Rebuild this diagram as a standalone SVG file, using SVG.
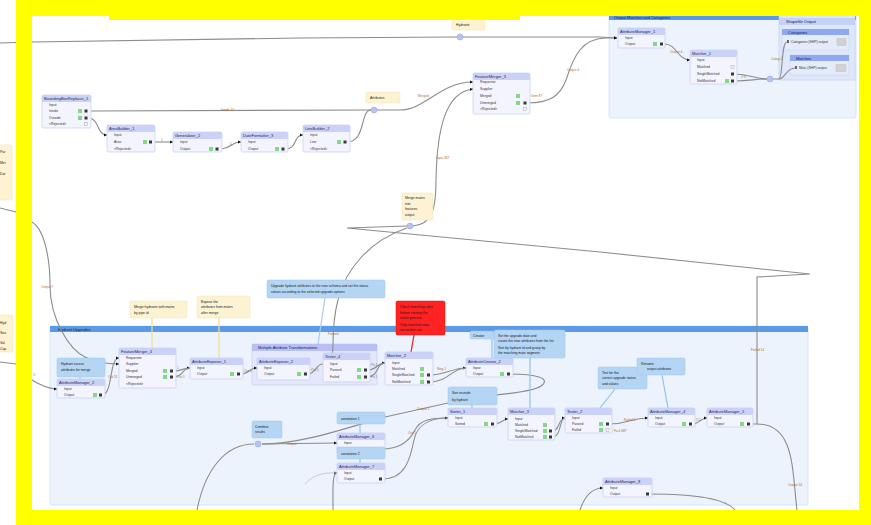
<svg xmlns="http://www.w3.org/2000/svg" width="871" height="525" viewBox="0 0 871 525">
<defs>
<style>
.nb{fill:#f3f4fe;stroke:#c3cbf2;stroke-width:.7}
.nh{fill:#cad2f8}
.nt{font-family:'Liberation Sans',Arial,sans-serif;font-size:4px;fill:#1d2550}
.pt{font-family:'Liberation Sans',Arial,sans-serif;font-size:3.4px;fill:#333}
.ok{fill:#86d886}
.op{fill:#3a3a3a}
.oi{fill:#e5a04e}
.ya{fill:#fdf2d2;stroke:#f3e3b6;stroke-width:.5}
.ba{fill:#b5d5f4;stroke:#a3c6ee;stroke-width:.5}
.ra{fill:#ff2222;stroke:#e01010;stroke-width:.5}
.at{font-family:'Liberation Sans',Arial,sans-serif;font-size:3.4px;fill:#1a1a1a}
.cl{fill:none;stroke:#8c8c8c;stroke-width:1.1}
.cf{fill:none;stroke:#c8c8c8;stroke-width:.9}
.ac{fill:none;stroke-width:1.2}
.lb{font-family:'Liberation Sans',Arial,sans-serif;font-size:3.2px;fill:#b0692c}
.jn{fill:#b7c3f4;stroke:#8f9ee6;stroke-width:.5}
.bm{fill:#ecf3fc;stroke:#cfe0f6;stroke-width:.8}
.bh{fill:#5a9ae6}
.bt{font-family:'Liberation Sans',Arial,sans-serif;font-size:4px;fill:#0d2050}
</style>
<marker id="ar" viewBox="0 0 4 4" refX="4" refY="2" markerWidth="3" markerHeight="3" orient="auto"><path d="M0,0L4,2L0,4z" fill="#111"/></marker>
</defs>
<rect width="871" height="525" fill="#fff"/>

<!-- bookmarks -->
<g id="bm-top">
<rect class="bm" x="609" y="13" width="247" height="105" rx="2"/>
<rect class="bh" x="609" y="13" width="247" height="7"/>
<text class="bt" x="614" y="18.5">Output Matches and Categories</text>
<rect x="779" y="13" width="76" height="67" fill="#dfe8fb" stroke="#b9cbf2" stroke-width=".6"/>
<rect x="779" y="18" width="76" height="7" fill="#c4d2f6"/>
<text class="bt" x="786" y="23">Shapefile Output</text>
<rect x="782" y="29" width="67" height="21" fill="#e4ebf9" stroke="#c2d0f0" stroke-width=".5"/>
<rect x="782" y="29" width="67" height="6" fill="#8fa8ee"/>
<text class="bt" x="788" y="33.5">Categories</text>
<rect x="787" y="40" width="2" height="3" fill="#666"/>
<text class="pt" x="791" y="43.2">Categories (SHP) output</text>
<rect x="837" y="38.5" width="9" height="7" fill="#d2d2d2" stroke="#b8b8b8" stroke-width=".4"/>
<rect x="790" y="55" width="59" height="20" fill="#e4ebf9" stroke="#c2d0f0" stroke-width=".5"/>
<rect x="790" y="55" width="59" height="6" fill="#8fa8ee"/>
<text class="bt" x="796" y="59.5">Matches</text>
<rect x="795" y="66" width="2" height="3" fill="#666"/>
<text class="pt" x="799" y="69.2">Matc (SHP) output</text>
<rect x="836" y="64.5" width="10" height="7" fill="#d2d2d2" stroke="#b8b8b8" stroke-width=".4"/>
</g>
<g id="bm-bottom">
<rect class="bm" x="50" y="326" width="758" height="179" rx="2"/>
<rect class="bh" x="50" y="326" width="758" height="6"/>
<text class="bt" x="58" y="330.5">Hydrant Upgrades</text>
</g>
<g id="bm-nested">
<rect x="252" y="344" width="125" height="41" rx="1.5" fill="#e3e8fb" stroke="#c3cbf2" stroke-width=".6"/>
<rect x="252" y="344" width="125" height="7" fill="#b7bff6"/>
<text class="bt" x="258" y="349">Multiple Attribute Transformations</text>
</g>

<!-- connectors -->
<g id="connectors">
<path class="cl" d="M0,43 L32,42 L300,38 L457,37"/>
<path class="cl" d="M463,37 L600,37 L617,38" marker-end="url(#ar)"/>
<path class="cl" d="M527,103 C550,103 560,96 566,80 C574,55 582,39 605,38 L617,38" marker-end="url(#ar)"/>
<path class="cl" d="M88,111 L371,110"/>
<path class="cl" d="M88,118 C100,118 96,135 107,135" marker-end="url(#ar)"/>
<path class="cl" d="M152,142 L173,142" marker-end="url(#ar)"/>
<path class="cl" d="M219,149 C232,149 230,142 241,142" marker-end="url(#ar)"/>
<path class="cl" d="M285,149 C298,149 293,135 303,135" marker-end="url(#ar)"/>
<path class="cl" d="M347,142 C366,142 360,110 371,110"/>
<path class="cl" d="M377,110 L400,110 C425,110 440,82 473,82" marker-end="url(#ar)"/>
<path class="cl" d="M413,226 C432,224 436,210 436,180 C437,130 445,92 473,89" marker-end="url(#ar)"/>
<path class="cl" d="M750,424 L757,424 L757,277 L810,274 L600,252 L347,228 L407,226"/>
<path class="cl" d="M757,424 C795,424 792,470 797,510"/>
<path class="cl" d="M407,228 C370,240 345,270 338,300 C334,315 333,330 333,345 C333,356 330,364 323,364" marker-end="url(#ar)"/>
<path class="cl" d="M665,44 C676,44 678,60 690,60" marker-end="url(#ar)"/>
<path class="cl" d="M734,74 C750,74 755,79 767,79"/>
<path class="cl" d="M734,81 C750,81 755,79 767,79"/>
<path class="cl" d="M773,79 L779,79 C783,79 781,42 787,42"/>
<path class="cl" d="M779,79 C785,79 786,68 795,68"/>
<path class="cl" d="M0,208 L16,212"/>
<path class="cl" d="M32,222 C45,230 50,260 50,285 C50,320 70,350 85,357 C95,362 105,364 119,364" marker-end="url(#ar)"/>
<path class="cl" d="M0,362 L16,364"/>
<path class="cl" d="M32,380 C40,385 48,389 57,389" marker-end="url(#ar)"/>
<path class="cl" d="M102,395 C113,395 109,358 119,358" marker-end="url(#ar)"/>
<path class="cl" d="M173,371 C183,371 182,368 190,368" marker-end="url(#ar)"/>
<path class="cl" d="M173,377 C184,377 182,368 190,368"/>
<path class="cl" d="M240,374 C250,374 249,368 257,368" marker-end="url(#ar)"/>
<path class="cl" d="M307,374 C317,374 315,364 323,364"/>
<path class="cl" d="M367,370 C378,370 376,363 385,363" marker-end="url(#ar)"/>
<path class="cl" d="M367,377 C379,377 376,363 385,363"/>
<path class="cl" d="M430,375 C446,375 452,368 466,368" marker-end="url(#ar)"/>
<path class="cl" d="M430,382 C448,382 452,368 466,368"/>
<path class="cl" d="M510,374 C535,374 552,378 541,386 C532,392 510,393 497,395 L448,403 L385,417 C340,430 300,444 262,444"/>
<path class="cl" d="M262,444 L337,443" marker-end="url(#ar)"/>
<path class="cl" d="M254,444 C225,444 205,470 197,510"/>
<path class="cl" d="M382,449 C400,449 410,440 415,430 C420,420 430,418 448,418" marker-end="url(#ar)"/>
<path class="cl" d="M382,479 C405,479 410,460 414,440 C417,425 430,418 448,418"/>
<path class="cl" d="M333,510 C333,490 332,473 337,473" marker-end="url(#ar)"/>
<path class="cf" d="M305,484 C312,476 322,472 337,473"/>
<path class="cl" d="M494,424 C502,424 502,419 508,419" marker-end="url(#ar)"/>
<path class="cl" d="M552,431 C560,431 558,418 565,418" marker-end="url(#ar)"/>
<path class="cl" d="M552,437 C562,437 559,418 565,418"/>
<path class="cl" d="M609,424 C630,424 630,418 648,418" marker-end="url(#ar)"/>
<path class="cl" d="M692,424 C700,424 700,418 707,418" marker-end="url(#ar)"/>
<path class="cl" d="M580,510 C585,495 592,488 603,488" marker-end="url(#ar)"/>
<path class="cl" d="M649,494 C690,494 725,498 735,510"/>
<!-- annotation connectors -->
<path class="ac" stroke="#f3dc8a" d="M152,318 L152,348"/>
<path class="ac" stroke="#f3dc8a" d="M219,318 L219,358"/>
<path class="ac" stroke="#a9c9f3" d="M325,298 L318,344"/>
<path class="ac" stroke="#e81818" d="M414,335 L411,352"/>
<path class="ac" stroke="#8fc1ef" d="M530,357 L530,408"/>
<path class="ac" stroke="#8fc1ef" d="M492,339 L492,358"/>
<path class="ac" stroke="#8fc1ef" d="M472,405 L472,408"/>
<path class="ac" stroke="#8fc1ef" d="M615,389 L600,408"/>
<path class="ac" stroke="#8fc1ef" d="M662,375 L668,408"/>
<path class="ac" stroke="#8fc1ef" d="M360,424 L360,433"/>
<path class="ac" stroke="#8fc1ef" d="M360,459 L360,463"/>
<path class="ac" stroke="#8fc1ef" d="M80,377 L80,379"/>
<!-- connector labels -->
<text class="lb" x="221" y="111.2">Inside 12</text>
<text class="lb" x="161" y="141">1</text>
<text class="lb" x="230" y="145">1</text>
<text class="lb" x="418" y="97">Merged</text>
<text class="lb" x="531" y="97">Unm 87</text>
<text class="lb" x="567" y="71">Output 4</text>
<text class="lb" x="436" y="159">Input 307</text>
<text class="lb" x="670" y="53">Output 4</text>
<text class="lb" x="741" y="78">O 6</text>
<text class="lb" x="771" y="60">Categ 2</text>
<text class="lb" x="751" y="351">Failed 14</text>
<text class="lb" x="788" y="486">Output 14</text>
<text class="lb" x="41" y="288">Output 7</text>
<text class="lb" x="33" y="376">O</text>
<text class="lb" x="108" y="378">Out 51</text>
<text class="lb" x="177" y="369">1</text>
<text class="lb" x="177" y="378">Out 1</text>
<text class="lb" x="244" y="372">Out 1</text>
<text class="lb" x="311" y="371">Out 1</text>
<text class="lb" x="328" y="335">Passed</text>
<text class="lb" x="371" y="366">Pa 1</text>
<text class="lb" x="371" y="378">Fa 1</text>
<text class="lb" x="437" y="370">Sing 1</text>
<text class="lb" x="417" y="410">Output 1</text>
<text class="lb" x="287" y="445">Output</text>
<text class="lb" x="408" y="434">Out 1</text>
<text class="lb" x="624" y="421">Failed 1</text>
<text class="lb" x="614" y="431.5">Fa 4 687</text>
<text class="lb" x="696" y="421">O 1</text>
</g>

<!-- nodes -->
<g id="n-bbox">
<rect class="nb" x="42" y="95" width="49" height="33" rx="1.5"/><rect class="nh" x="42" y="95" width="49" height="7" rx="1.5"/>
<text class="nt" x="44" y="100">BoundingBoxReplacer_1</text>
<text class="pt" x="49" y="106.2">Input</text><text class="pt" x="49" y="112.2">Inside</text><text class="pt" x="49" y="119.2">Outside</text><text class="pt" x="49" y="125.2">&lt;Rejected&gt;</text>
<rect class="ok" x="78" y="109" width="4" height="4"/><rect class="ok" x="78" y="116" width="4" height="4"/>
<rect class="op" x="84.5" y="109.5" width="3" height="3"/><rect class="op" x="84.5" y="116.5" width="3" height="3"/>
<rect x="84.5" y="122.5" width="3" height="3" fill="none" stroke="#999" stroke-width=".4"/>
</g>
<g id="n-area">
<rect class="nb" x="107" y="125" width="48" height="27" rx="1.5"/><rect class="nh" x="107" y="125" width="48" height="7" rx="1.5"/>
<text class="nt" x="109" y="130">AreaBuilder_1</text>
<text class="pt" x="114" y="136.2">Input</text><text class="pt" x="114" y="143.2">Area</text><text class="pt" x="114" y="150.2">&lt;Rejected&gt;</text>
<rect class="ok" x="143" y="140" width="4" height="4"/><rect class="op" x="149" y="140.5" width="3" height="3"/>
</g>
<g id="n-gen">
<rect class="nb" x="173" y="132" width="49" height="20" rx="1.5"/><rect class="nh" x="173" y="132" width="49" height="7" rx="1.5"/>
<text class="nt" x="175" y="137">Generalizer_2</text>
<text class="pt" x="180" y="143.2">Input</text><text class="pt" x="180" y="150.2">Output</text>
<rect class="ok" x="209" y="147" width="4" height="4"/><rect class="op" x="215.5" y="147.5" width="3" height="3"/>
</g>
<g id="n-snap">
<rect class="nb" x="241" y="132" width="47" height="20" rx="1.5"/><rect class="nh" x="241" y="132" width="47" height="7" rx="1.5"/>
<text class="nt" x="243" y="137">DateFormatter_3</text>
<text class="pt" x="248" y="143.2">Input</text><text class="pt" x="248" y="150.2">Output</text>
<rect class="ok" x="275" y="147" width="4" height="4"/><rect class="op" x="281.5" y="147.5" width="3" height="3"/>
</g>
<g id="n-line">
<rect class="nb" x="303" y="125" width="47" height="27" rx="1.5"/><rect class="nh" x="303" y="125" width="47" height="7" rx="1.5"/>
<text class="nt" x="305" y="130">LineBuilder_2</text>
<text class="pt" x="310" y="136.2">Input</text><text class="pt" x="310" y="143.2">Line</text><text class="pt" x="310" y="150.2">&lt;Rejected&gt;</text>
<rect class="ok" x="337" y="140" width="4" height="4"/><rect class="op" x="343.5" y="140.5" width="3" height="3"/>
</g>
<g id="n-fm3">
<rect class="nb" x="473" y="73" width="57" height="41" rx="1.5"/><rect class="nh" x="473" y="73" width="57" height="7" rx="1.5"/>
<text class="nt" x="475" y="78">FeatureMerger_3</text>
<text class="pt" x="480" y="83.2">Requestor</text><text class="pt" x="480" y="90.2">Supplier</text><text class="pt" x="480" y="97.2">Merged</text><text class="pt" x="480" y="104.2">Unmerged</text><text class="pt" x="480" y="110.2">&lt;Rejected&gt;</text>
<rect class="ok" x="516" y="94" width="4" height="4"/><rect class="ok" x="516" y="101" width="4" height="4"/>
<rect class="op" x="523.5" y="101.5" width="3" height="3"/>
<rect x="523.5" y="107.5" width="3" height="3" fill="none" stroke="#999" stroke-width=".4"/>
</g>
<g id="n-am1">
<rect class="nb" x="618" y="28" width="47" height="20" rx="1.5"/><rect class="nh" x="618" y="28" width="47" height="7" rx="1.5"/>
<text class="nt" x="620" y="33">AttributeManager_1</text>
<text class="pt" x="625" y="39.2">Input</text><text class="pt" x="625" y="45.2">Output</text>
<rect class="ok" x="653" y="42" width="4" height="4"/><rect class="op" x="660" y="42.5" width="3" height="3"/>
</g>
<g id="n-m1">
<rect class="nb" x="690" y="50" width="47" height="34" rx="1.5"/><rect class="nh" x="690" y="50" width="47" height="7" rx="1.5"/>
<text class="nt" x="692" y="55">Matcher_1</text>
<text class="pt" x="697" y="61.2">Input</text><text class="pt" x="697" y="68.2">Matched</text><text class="pt" x="697" y="75.2">SingleMatched</text><text class="pt" x="697" y="82.2">NotMatched</text>
<rect class="ok" x="725" y="79" width="4" height="4"/>
<rect class="op" x="731" y="72.5" width="3" height="3"/><rect class="op" x="731" y="79.5" width="3" height="3"/>
<rect x="731" y="65.5" width="3" height="3" fill="none" stroke="#999" stroke-width=".4"/>
</g>
<g id="n-am2">
<rect class="nb" x="57" y="379" width="48" height="19" rx="1.5"/><rect class="nh" x="57" y="379" width="48" height="7" rx="1.5"/>
<text class="nt" x="59" y="384">AttributeManager_2</text>
<text class="pt" x="64" y="390.2">Input</text><text class="pt" x="64" y="396.2">Output</text>
<rect class="ok" x="93" y="393" width="4" height="4"/><rect class="op" x="99" y="393.5" width="3" height="3"/>
</g>
<g id="n-fm4">
<rect class="nb" x="119" y="348" width="57" height="40" rx="1.5"/><rect class="nh" x="119" y="348" width="57" height="7" rx="1.5"/>
<text class="nt" x="121" y="353">FeatureMerger_4</text>
<text class="pt" x="126" y="359.2">Requestor</text><text class="pt" x="126" y="365.2">Supplier</text><text class="pt" x="126" y="372.2">Merged</text><text class="pt" x="126" y="378.2">Unmerged</text><text class="pt" x="126" y="385.2">&lt;Rejected&gt;</text>
<rect class="ok" x="163" y="369" width="4" height="4"/><rect class="ok" x="163" y="375" width="4" height="4"/>
<rect class="op" x="170" y="369.5" width="3" height="3"/><rect class="op" x="170" y="375.5" width="3" height="3"/>
</g>
<g id="n-ae1">
<rect class="nb" x="190" y="358" width="53" height="21" rx="1.5"/><rect class="nh" x="190" y="358" width="53" height="7" rx="1.5"/>
<text class="nt" x="192" y="363">AttributeExposer_1</text>
<text class="pt" x="197" y="369.2">Input</text><text class="pt" x="197" y="375.2">Output</text>
<rect class="ok" x="230" y="372" width="4" height="4"/><rect class="op" x="237" y="372.5" width="3" height="3"/>
</g>
<g id="n-ae2">
<rect class="nb" x="257" y="358" width="53" height="22" rx="1.5"/><rect class="nh" x="257" y="358" width="53" height="7" rx="1.5"/>
<text class="nt" x="259" y="363">AttributeExposer_2</text>
<text class="pt" x="264" y="369.2">Input</text><text class="pt" x="264" y="375.2">Output</text>
<rect class="ok" x="297" y="372" width="4" height="4"/><rect class="op" x="304" y="372.5" width="3" height="3"/>
</g>
<g id="n-t4">
<rect class="nb" x="323" y="353" width="47" height="29" rx="1.5"/><rect class="nh" x="323" y="353" width="47" height="7" rx="1.5"/>
<text class="nt" x="325" y="358">Tester_4</text>
<text class="pt" x="330" y="365.2">Input</text><text class="pt" x="330" y="371.2">Passed</text><text class="pt" x="330" y="378.2">Failed</text>
<rect class="ok" x="357" y="368" width="4" height="4"/><rect class="ok" x="357" y="375" width="4" height="4"/>
<rect class="op" x="364" y="368.5" width="3" height="3"/><rect class="op" x="364" y="375.5" width="3" height="3"/>
</g>
<g id="n-m2">
<rect class="nb" x="385" y="352" width="48" height="33" rx="1.5"/><rect class="nh" x="385" y="352" width="48" height="7" rx="1.5"/>
<text class="nt" x="387" y="357">Matcher_2</text>
<text class="pt" x="392" y="364.2">Input</text><text class="pt" x="392" y="370.2">Matched</text><text class="pt" x="392" y="376.2">SingleMatched</text><text class="pt" x="392" y="383.2">NotMatched</text>
<rect class="ok" x="420" y="367" width="4" height="4"/><rect class="ok" x="420" y="373" width="4" height="4"/><rect class="ok" x="420" y="380" width="4" height="4"/>
<rect class="op" x="427" y="373.5" width="3" height="3"/><rect class="op" x="427" y="380.5" width="3" height="3"/>
</g>
<g id="n-ac2">
<rect class="nb" x="466" y="358" width="47" height="19" rx="1.5"/><rect class="nh" x="466" y="358" width="47" height="7" rx="1.5"/>
<text class="nt" x="468" y="363">AttributeCreator_2</text>
<text class="pt" x="473" y="369.2">Input</text><text class="pt" x="473" y="375.2">Output</text>
<rect class="ok" x="500" y="372" width="4" height="4"/><rect class="op" x="507" y="372.5" width="3" height="3"/>
</g>
<g id="n-sort">
<rect class="nb" x="448" y="408" width="49" height="19" rx="1.5"/><rect class="nh" x="448" y="408" width="49" height="7" rx="1.5"/>
<text class="nt" x="450" y="413">Sorter_1</text>
<text class="pt" x="455" y="419.2">Input</text><text class="pt" x="455" y="425.2">Sorted</text>
<rect class="ok" x="484" y="422" width="4" height="4"/><rect class="op" x="491" y="422.5" width="3" height="3"/>
</g>
<g id="n-m3">
<rect class="nb" x="508" y="408" width="47" height="32" rx="1.5"/><rect class="nh" x="508" y="408" width="47" height="7" rx="1.5"/>
<text class="nt" x="510" y="413">Matcher_3</text>
<text class="pt" x="515" y="420.2">Input</text><text class="pt" x="515" y="426.2">Matched</text><text class="pt" x="515" y="432.2">SingleMatched</text><text class="pt" x="515" y="438.2">NotMatched</text>
<rect class="ok" x="543" y="423" width="4" height="4"/><rect class="ok" x="543" y="429" width="4" height="4"/><rect class="ok" x="543" y="435" width="4" height="4"/>
<rect class="op" x="549" y="429.5" width="3" height="3"/><rect class="op" x="549" y="435.5" width="3" height="3"/>
</g>
<g id="n-t2">
<rect class="nb" x="565" y="408" width="47" height="25" rx="1.5"/><rect class="nh" x="565" y="408" width="47" height="7" rx="1.5"/>
<text class="nt" x="567" y="413">Tester_2</text>
<text class="pt" x="572" y="419.2">Input</text><text class="pt" x="572" y="425.2">Passed</text><text class="pt" x="572" y="431.2">Failed</text>
<rect class="ok" x="599" y="422" width="4" height="4"/><rect class="ok" x="599" y="428" width="4" height="4"/>
<rect class="op" x="606" y="422.5" width="3" height="3"/>
<rect x="606" y="428.5" width="3" height="3" fill="none" stroke="#999" stroke-width=".4"/>
</g>
<g id="n-am4">
<rect class="nb" x="648" y="408" width="47" height="19" rx="1.5"/><rect class="nh" x="648" y="408" width="47" height="7" rx="1.5"/>
<text class="nt" x="650" y="413">AttributeManager_4</text>
<text class="pt" x="655" y="419.2">Input</text><text class="pt" x="655" y="425.2">Output</text>
<rect class="ok" x="682" y="422" width="4" height="4"/><rect class="op" x="689" y="422.5" width="3" height="3"/>
</g>
<g id="n-am5">
<rect class="nb" x="707" y="408" width="46" height="19" rx="1.5"/><rect class="nh" x="707" y="408" width="46" height="7" rx="1.5"/>
<text class="nt" x="709" y="413">AttributeManager_5</text>
<text class="pt" x="714" y="419.2">Input</text><text class="pt" x="714" y="425.2">Output</text>
<rect class="ok" x="740" y="422" width="4" height="4"/><rect class="op" x="747" y="422.5" width="3" height="3"/>
</g>
<g id="n-am6">
<rect class="nb" x="337" y="433" width="48" height="19" rx="1.5"/><rect class="nh" x="337" y="433" width="48" height="7" rx="1.5"/>
<text class="nt" x="339" y="438">AttributeManager_6</text>
<text class="pt" x="344" y="444.2">Input</text>
</g>
<g id="n-am7">
<rect class="nb" x="337" y="463" width="48" height="20" rx="1.5"/><rect class="nh" x="337" y="463" width="48" height="7" rx="1.5"/>
<text class="nt" x="339" y="468">AttributeManager_7</text>
<text class="pt" x="344" y="474.2">Input</text><text class="pt" x="344" y="480.2">Output</text>
<rect class="op" x="379" y="477.5" width="3" height="3"/>
</g>
<g id="n-am8">
<rect class="nb" x="603" y="478" width="49" height="19" rx="1.5"/><rect class="nh" x="603" y="478" width="49" height="7" rx="1.5"/>
<text class="nt" x="605" y="483">AttributeManager_8</text>
<text class="pt" x="610" y="489.2">Input</text><text class="pt" x="610" y="495.2">Output</text>
<rect class="op" x="646" y="492.5" width="3" height="3"/>
</g>

<!-- annotations -->
<g id="a-top"><rect class="ya" x="452" y="10" width="33" height="20" rx="1.5"/><text class="at" x="456" y="26">Hydrants</text></g>
<g id="a-j1"><rect class="ya" x="366" y="92" width="34" height="11" rx="1.5"/><text class="at" x="370" y="99">Attributes</text></g>
<g id="a-j2"><rect class="ya" x="402" y="193" width="31" height="27" rx="1.5"/><text class="at" x="405" y="199">Merge mains</text><text class="at" x="405" y="205">into</text><text class="at" x="405" y="209.5">features</text><text class="at" x="405" y="215.5">output</text></g>
<g id="a-left1"><rect class="ya" x="-3" y="145" width="15" height="55" rx="1.5"/><text class="at" x="0" y="153">Par</text><text class="at" x="0" y="164">Mer</text><text class="at" x="0" y="175">Dat</text></g>
<g id="a-left2"><rect class="ya" x="-3" y="315" width="16" height="37" rx="1.5"/><text class="at" x="0" y="324">Hyd</text><text class="at" x="0" y="334">Sou</text><text class="at" x="0" y="344">Val</text><text class="at" x="0" y="350">Cap</text></g>
<g id="a-fm4"><rect class="ya" x="130" y="301" width="57" height="17" rx="1.5"/><text class="at" x="134" y="308">Merge hydrants with mains</text><text class="at" x="134" y="314">by pipe id</text></g>
<g id="a-ae1"><rect class="ya" x="197" y="296" width="53" height="22" rx="1.5"/><text class="at" x="201" y="303">Expose the</text><text class="at" x="201" y="308">attributes from mains</text><text class="at" x="201" y="314">after merge</text></g>
<g id="a-bm"><rect class="ba" x="267" y="280" width="118" height="18" rx="1.5"/><text class="at" x="271" y="287">Upgrade hydrant attributes to the new schema and set the status</text><text class="at" x="271" y="293">values according to the selected upgrade options</text></g>
<g id="a-red"><rect class="ra" x="396" y="301" width="49" height="34" rx="1.5"/><text class="at" x="400" y="308">Check matching rules</text><text class="at" x="400" y="314">before running the</text><text class="at" x="400" y="318.5">whole process</text><text class="at" x="400" y="326">Only matched rows</text><text class="at" x="400" y="331">are written out</text></g>
<g id="a-sm"><rect class="ba" x="470" y="331" width="24" height="8" rx="1.5"/><text class="at" x="473" y="336.5">Creator</text></g>
<g id="a-big"><rect class="ba" x="494" y="330" width="71" height="28" rx="1.5"/><text class="at" x="498" y="337">Set the upgrade date and</text><text class="at" x="498" y="341.5">create the new attributes from the list</text><text class="at" x="498" y="349">Sort by hydrant id and group by</text><text class="at" x="498" y="353.5">the matching main segment</text></g>
<g id="a-sort"><rect class="ba" x="448" y="387" width="49" height="18" rx="1.5"/><text class="at" x="452" y="394">Sort records</text><text class="at" x="452" y="400.5">by hydrant</text></g>
<g id="a-am6"><rect class="ba" x="337" y="412" width="48" height="12" rx="1.5"/><text class="at" x="341" y="419.5">annotation 1</text></g>
<g id="a-am7"><rect class="ba" x="337" y="447" width="48" height="12" rx="1.5"/><text class="at" x="341" y="454.5">annotation 2</text></g>
<g id="a-j3"><rect class="ba" x="252" y="421" width="30" height="17" rx="1.5"/><text class="at" x="255" y="428">Combine</text><text class="at" x="255" y="433">results</text></g>
<g id="a-t2"><rect class="ba" x="598" y="367" width="49" height="22" rx="1.5"/><text class="at" x="602" y="374">Test for the</text><text class="at" x="602" y="379">correct upgrade status</text><text class="at" x="602" y="385">and values</text></g>
<g id="a-am4"><rect class="ba" x="637" y="358" width="48" height="17" rx="1.5"/><text class="at" x="641" y="365">Rename</text><text class="at" x="647" y="370">output attributes</text></g>
<g id="a-am2"><rect class="ba" x="57" y="358" width="48" height="19" rx="1.5"/><text class="at" x="61" y="365">Hydrant source</text><text class="at" x="61" y="370.5">attributes for merge</text></g>

<!-- junctions -->
<g id="junctions">
<circle class="jn" cx="460" cy="37" r="3"/>
<circle class="jn" cx="374" cy="110" r="3"/>
<circle class="jn" cx="410" cy="226" r="3"/>
<circle class="jn" cx="258" cy="444" r="3"/>
<circle class="jn" cx="770" cy="79" r="3"/>
</g>

<!-- yellow frame -->
<path fill="#ffff00" fill-rule="evenodd" d="M16,0 H871 V525 H16 Z M32,16 H109 V20 H520 V16 H859 V510 H32 Z"/>
</svg>
